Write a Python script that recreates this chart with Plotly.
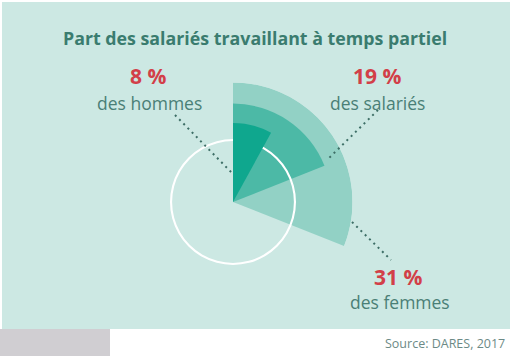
import plotly.graph_objects as go

# ---- data ----
categories = ["des femmes", "des salariés", "des hommes"]
values = [31, 19, 8]
value_labels = ["31 %", "19 %", "8 %"]
colors = ["#92d1c5", "#4cb9a6", "#0fa78e"]
title = "Part des salariés travaillant à temps partiel"
source = "Source: DARES, 2017"

W, H = 518, 356
R_MIN = -36.9       # radial scale offset so wedges start at the centre
R_MAX = 31
CIRCLE_R = -1.7     # white guide circle, in radial units

fig = go.Figure()

def wedge(v, col, name):
    fig.add_trace(go.Barpolar(
        r=[v - R_MIN], base=[R_MIN], theta=[v * 3.6 / 2], width=[v * 3.6],
        marker=dict(color=col, line=dict(width=0)), name=name,
        hoverinfo="skip", showlegend=False))

# outer -> middle
wedge(values[0], colors[0], categories[0])
wedge(values[1], colors[1], categories[1])
# white circle ring (between middle and inner layers)
fig.add_trace(go.Barpolar(
    r=[1.2], base=[CIRCLE_R - 0.6], theta=[180], width=[359.99],
    marker=dict(color="white", line=dict(width=0)),
    hoverinfo="skip", showlegend=False))
wedge(values[2], colors[2], categories[2])

cx, cy, R = 233, 202, 119.5
fig.update_layout(
    width=W, height=H,
    margin=dict(l=0, r=0, t=0, b=0),
    paper_bgcolor="white",
    polar=dict(
        domain=dict(x=[(cx - R) / W, (cx + R) / W],
                    y=[(H - cy - R) / H, (H - cy + R) / H]),
        bgcolor="rgba(0,0,0,0)",
        radialaxis=dict(range=[R_MIN, R_MAX], visible=False, showgrid=False),
        angularaxis=dict(rotation=90, direction="clockwise", visible=False,
                         showgrid=False),
        bargap=0,
    ),
    barmode="overlay",
)

def px(x):
    return x / W

def py(y):
    return 1 - y / H

shapes = [
    # panel background
    dict(type="rect", xref="paper", yref="paper", layer="below",
         x0=px(2), x1=px(510), y0=py(329), y1=py(2),
         fillcolor="#cce8e3", line=dict(width=0)),
    dict(type="rect", xref="paper", yref="paper", layer="below",
         x0=px(0), x1=px(110), y0=py(356), y1=py(329),
         fillcolor="#d0ced2", line=dict(width=0)),
]
leaders = [((175, 115), (232, 173)), ((378, 110), (327, 160)), ((352, 222), (391, 260))]
for (x0, y0), (x1, y1) in leaders:
    shapes.append(dict(type="line", xref="paper", yref="paper", layer="above",
                       x0=px(x0), y0=py(y0), x1=px(x1), y1=py(y1),
                       line=dict(color="#3d6e66", width=2, dash="2px,4px")))
fig.update_layout(shapes=shapes)

FONT = "Open Sans"
ann = [dict(text=f"<b>{title}</b>", x=px(255), y=py(38),
            font=dict(size=17.8, color="#3a7c6f", family=FONT))]
label_pos = [((398, 277), (400, 302)), ((377, 76), (377, 103)), ((148, 76), (149, 103))]
for lab, cat, ((vx, vy), (tx, ty)) in zip(value_labels, categories, label_pos):
    ann.append(dict(text=f"<b>{lab}</b>", x=px(vx), y=py(vy),
                    font=dict(size=21, color="#d23f48", family=FONT)))
    ann.append(dict(text=cat, x=px(tx), y=py(ty),
                    font=dict(size=17.5, color="#4a7f76", family=FONT)))
ann.append(dict(text=source, x=px(445), y=py(343),
                font=dict(size=12.5, color="#6c8a86", family=FONT)))
for a in ann:
    a.update(xref="paper", yref="paper", showarrow=False,
             xanchor="center", yanchor="middle")
fig.update_layout(annotations=ann)

fig.write_html("out.html", config={"displayModeBar": False},
               post_script="document.body.style.margin='0';document.body.style.overflow='hidden';")
